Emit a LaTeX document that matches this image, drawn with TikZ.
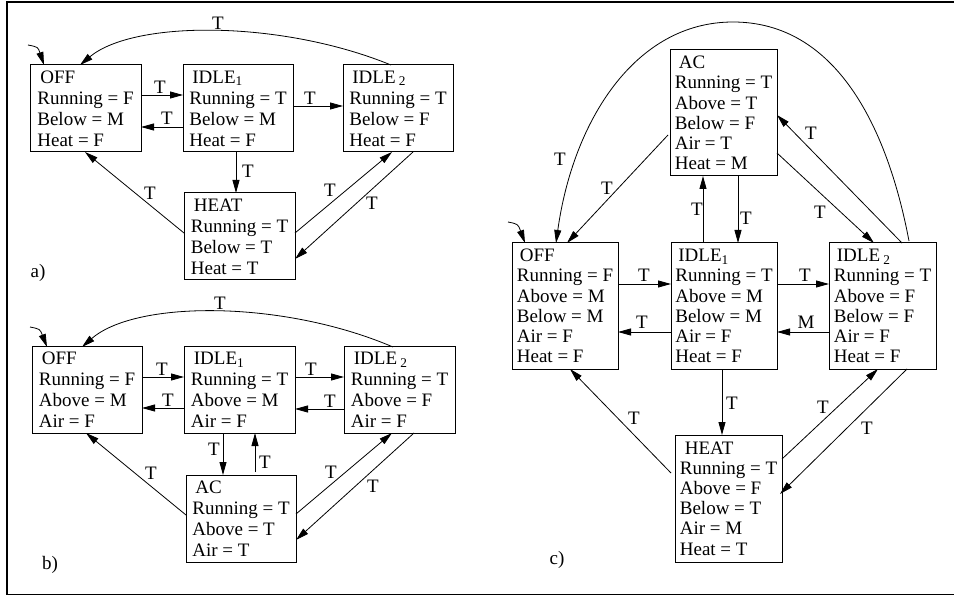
\documentclass[tikz,border=0pt]{standalone}
\usepackage{fontspec}
\setmainfont{Liberation Serif}
\usetikzlibrary{arrows.meta,calc}
\tikzset{
  st/.style={draw, line width=1pt, inner sep=0pt, outer sep=0pt, align=left,
    font=\fontsize{19}{21}\selectfont},
  stc/.style={st, font=\fontsize{19}{20.2}\selectfont},
  arr/.style={line width=0.8pt, -{Triangle[length=13pt,width=7pt]}},
  lbl/.style={font=\fontsize{19}{21}\selectfont, inner sep=0pt},
}
\begin{document}
\begin{tikzpicture}[x=1pt,y=-1pt]
\useasboundingbox (0,0) rectangle (954,596);
% frame
\draw[line width=1.2pt] (955,2) -- (7,2) -- (7,594.5) -- (955,594.5);

% ---------------- panel a ----------------
\node[st, minimum width=111pt, minimum height=87pt] (offA) at (85.5,108.5)
  {\hspace*{3pt}OFF\\Running = F\\Below = M\\Heat = F};
\node[st, minimum width=110pt, minimum height=87pt] (idA) at (238,108.5)
  {\hspace*{3pt}IDLE\textsubscript{1}\\Running = T\\Below = M\\Heat = F};
\node[st, minimum width=110pt, minimum height=87pt] (id2A) at (398,108.5)
  {\hspace*{3pt}IDLE\,\textsubscript{2}\\Running = T\\Below = F\\Heat = F};
\node[st, minimum width=111pt, minimum height=87pt] (heatA) at (239.5,236.5)
  {\hspace*{3pt}HEAT\\Running = T\\Below = T\\Heat = T};

\draw[arr] ($(offA.north west)+(111,30)$) -- ($(idA.north west)+(0,30)$)
  node[lbl] (la1) at (160,87) {T};
\draw[arr] ($(idA.north west)+(0,62)$) -- ($(offA.north west)+(111,62)$)
  node[lbl] (la2) at (167,118) {T};
\draw[arr] ($(idA.north west)+(110,41)$) -- ($(id2A.north west)+(0,41)$)
  node[lbl] (la3) at (310,98) {T};
\draw[arr] ($(idA.north west)+(53,87)$) -- ($(heatA.north west)+(52,0)$)
  node[lbl] (la4) at (248,171) {T};
\draw[arr] ($(heatA.north west)+(0,40)$) -- ($(offA.north west)+(55,87)$)
  node[lbl] (la5) at (150,193) {T};
\draw[arr] ($(heatA.north west)+(111,40)$) -- ($(id2A.north west)+(49,87)$)
  node[lbl] (la6) at (330,190) {T};
\draw[arr] ($(id2A.north west)+(70,87)$) -- ($(heatA.north west)+(111,66)$)
  node[lbl] (la7) at (372,203) {T};
\draw[arr] ($(id2A.north west)+(48,0)$) .. controls (281,20) and (134,20) .. ($(offA.north west)+(50,0)$)
  node[lbl] (la8) at (218,23) {T};
\coordinate (iA) at (28,45);
\draw[arr] (iA) .. controls (38,47) .. ($(offA.north west)+(14,0)$);
\node[lbl] (capA) at (38,273) {a)};

% ---------------- panel b ----------------
\node[st, minimum width=110pt, minimum height=86pt] (offB) at (87,390)
  {\hspace*{3pt}OFF\\Running = F\\Above = M\\Air = F};
\node[st, minimum width=111pt, minimum height=86pt] (idB) at (239.5,390)
  {\hspace*{3pt}IDLE\textsubscript{1}\\Running = T\\Above = M\\Air = F};
\node[st, minimum width=111pt, minimum height=86pt] (id2B) at (399.5,390)
  {\hspace*{3pt}IDLE\,\textsubscript{2}\\Running = T\\Above = F\\Air = F};
\node[st, minimum width=110pt, minimum height=87pt] (acB) at (241,518.5)
  {\hspace*{3pt}AC\\Running = T\\Above = T\\Air = T};

\draw[arr] ($(offB.north west)+(110,30)$) -- ($(idB.north west)+(0,30)$)
  node[lbl] (lb1) at (162,369) {T};
\draw[arr] ($(idB.north west)+(0,61)$) -- ($(offB.north west)+(110,61)$)
  node[lbl] (lb2) at (168,400) {T};
\draw[arr] ($(idB.north west)+(111,30)$) -- ($(id2B.north west)+(0,30)$)
  node[lbl] (lb3) at (311,369) {T};
\draw[arr] ($(id2B.north west)+(0,62)$) -- ($(idB.north west)+(111,62)$)
  node[lbl] (lb4) at (330,401) {T};
\draw[arr] ($(idB.north west)+(39,86)$) -- ($(acB.north west)+(37,0)$)
  node[lbl] (lb5) at (214,449) {T};
\draw[arr] ($(acB.north west)+(69,-3)$) -- ($(idB.north west)+(71,86)$)
  node[lbl] (lb6) at (265,462) {T};
\draw[arr] ($(acB.north west)+(0,40)$) -- ($(offB.north west)+(54,86)$)
  node[lbl] (lb7) at (151,473) {T};
\draw[arr] ($(acB.north west)+(110,39)$) -- ($(id2B.north west)+(48,86)$)
  node[lbl] (lb8) at (331,472) {T};
\draw[arr] ($(id2B.north west)+(70,86)$) -- ($(acB.north west)+(110,65)$)
  node[lbl] (lb9) at (373,486) {T};
\draw[arr] ($(id2B.north west)+(49,0)$) .. controls (283,300) and (136,300) .. ($(offB.north west)+(50,0)$)
  node[lbl] (lb10) at (220,303) {T};
\coordinate (iB) at (30,327);
\draw[arr] (iB) .. controls (40,329) .. ($(offB.north west)+(15,0)$);
\node[lbl] (capB) at (50,565) {b)};

% ---------------- panel c ----------------
\node[stc, minimum width=107pt, minimum height=126pt] (acC) at (723.5,113)
  {\hspace*{4pt}AC\\Running = T\\Above = T\\Below = F\\Air = T\\Heat = M};
\node[stc, minimum width=106pt, minimum height=126pt] (offC) at (565,306)
  {\hspace*{3pt}OFF\\Running = F\\Above = M\\Below = M\\Air = F\\Heat = F};
\node[stc, minimum width=106pt, minimum height=126pt] (idC) at (724,306)
  {\hspace*{3pt}IDLE\textsubscript{1}\\Running = T\\Above = M\\Below = M\\Air = F\\Heat = F};
\node[stc, minimum width=107pt, minimum height=126pt] (id2C) at (882.5,306)
  {\hspace*{3pt}IDLE\,\textsubscript{2}\\Running = T\\Above = F\\Below = F\\Air = F\\Heat = F};
\node[stc, minimum width=107pt, minimum height=127pt] (heatC) at (728.5,498.5)
  {\hspace*{5pt}HEAT\\Running = T\\Above = F\\Below = T\\Air = M\\Heat = T};

\draw[arr] ($(offC.north west)+(106,41)$) -- ($(idC.north west)+(0,41)$)
  node[lbl] (lc1) at (644,275) {T};
\draw[arr] ($(idC.north west)+(0,89)$) -- ($(offC.north west)+(106,89)$)
  node[lbl] (lc2) at (642,322) {T};
\draw[arr] ($(idC.north west)+(106,41)$) -- ($(id2C.north west)+(0,41)$)
  node[lbl] (lc3) at (805,275) {T};
\draw[arr] ($(id2C.north west)+(0,89)$) -- ($(idC.north west)+(106,89)$)
  node[lbl] (lc4) at (806,322) {M};
\draw[arr] ($(idC.north west)+(32,0)$) -- ($(acC.north west)+(33,126)$)
  node[lbl] (lc5) at (697,209) {T};
\draw[arr] ($(acC.north west)+(68,126)$) -- ($(idC.north west)+(67,0)$)
  node[lbl] (lc6) at (746,218) {T};
\draw[arr] ($(acC.north west)+(-2,85)$) -- ($(offC.north west)+(55,0)$)
  node[lbl] (lc7) at (607,188) {T};
\draw[arr] ($(acC.north west)+(107,103)$) -- ($(id2C.north west)+(45,0)$)
  node[lbl] (lc8) at (820,212) {T};
\draw[arr] ($(id2C.north west)+(73,0)$) -- ($(acC.north west)+(107,65)$)
  node[lbl] (lc9) at (811,133) {T};
\coordinate (topC) at (733,22);
\draw[arr] ($(id2C.north west)+(80,-2)$) .. controls (887,125) and (835,22) .. (topC)
  .. controls (635,22) and (573,121) .. ($(offC.north west)+(44,0)$)
  node[lbl] (lc10) at (560,159) {T};
\draw[arr] ($(heatC.north west)+(-4,38)$) -- ($(offC.north west)+(58,126)$)
  node[lbl] (lc11) at (634,418) {T};
\draw[arr] ($(heatC.north west)+(107,24)$) -- ($(id2C.north west)+(49,126)$)
  node[lbl] (lc12) at (823,407) {T};
\draw[arr] ($(id2C.north west)+(78,126)$) -- ($(heatC.north west)+(105,59)$)
  node[lbl] (lc13) at (867,428) {T};
\draw[arr] ($(idC.north west)+(51,126)$) -- ($(heatC.north west)+(47,0)$)
  node[lbl] (lc14) at (732,403) {T};
\coordinate (iC) at (508,222);
\draw[arr] (iC) .. controls (518,224) .. ($(offC.north west)+(13,0)$);
\node[lbl] (capC) at (557,560) {c)};
\end{tikzpicture}
\end{document}
